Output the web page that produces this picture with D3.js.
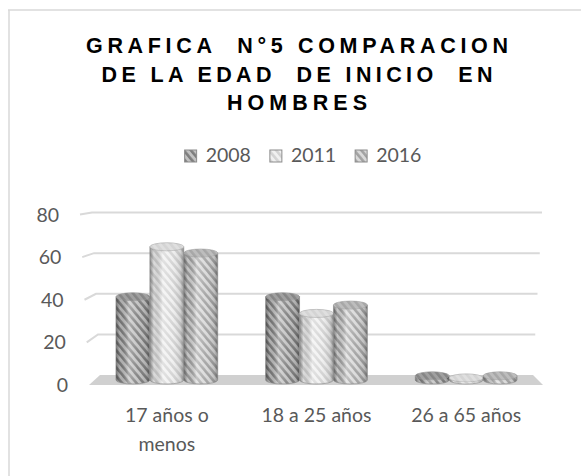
<!DOCTYPE html>
<html>
<head>
<meta charset="utf-8">
<script src="https://cdn.jsdelivr.net/npm/d3@7"></script>
<style>
  body { margin: 0; background: #fff; }
  svg { display: block; }
</style>
</head>
<body>
<div id="chart"></div>
<script>
// data
var categories = ["17 años o menos", "18 a 25 años", "26 a 65 años"];
var series = ["2008", "2011", "2016"];
var values2008 = [40, 40, 2];
var values2011 = [64, 32, 1];
var values2016 = [61, 36, 2];
var yTicks = [0, 20, 40, 60, 80];
var titleLines = ["GRAFICA  N°5 COMPARACION", "DE LA EDAD  DE INICIO  EN", "HOMBRES"];

var allValues = [values2008, values2011, values2016];

var w = 581;
var h = 476;

// base colour + stripe colour for each year
var baseColor = { "2008": "#c2c2c2", "2011": "#f0f0f0", "2016": "#d9d9d9" };
var stripeColor = { "2008": "#7e7e7e", "2011": "#d3d3d3", "2016": "#a2a2a2" };
var topColor = { "2008": "#8a8a8a", "2011": "#d4d4d4", "2016": "#ababab" };

var svg = d3.select("#chart")
    .append("svg")
    .attr("width", w)
    .attr("height", h);

var defs = svg.append("defs");

series.forEach(function (s) {
    var p = defs.append("pattern")
        .attr("id", "stripe-" + s)
        .attr("patternUnits", "userSpaceOnUse")
        .attr("width", 5.5)
        .attr("height", 5.5)
        .attr("patternTransform", "rotate(-40)");
    p.append("rect").attr("width", 5.5).attr("height", 5.5).attr("fill", baseColor[s]);
    p.append("rect").attr("width", 2.6).attr("height", 5.5).attr("fill", stripeColor[s]);
});

// cylinder shading
var shade = defs.append("linearGradient").attr("id", "shade");
shade.append("stop").attr("offset", "0%").attr("stop-color", "#000").attr("stop-opacity", 0.4);
shade.append("stop").attr("offset", "12%").attr("stop-color", "#000").attr("stop-opacity", 0.08);
shade.append("stop").attr("offset", "38%").attr("stop-color", "#fff").attr("stop-opacity", 0.35);
shade.append("stop").attr("offset", "65%").attr("stop-color", "#fff").attr("stop-opacity", 0.05);
shade.append("stop").attr("offset", "90%").attr("stop-color", "#000").attr("stop-opacity", 0.12);
shade.append("stop").attr("offset", "100%").attr("stop-color", "#000").attr("stop-opacity", 0.35);

// chart frame (only top and left edges are visible)
svg.append("line").attr("x1", 8).attr("x2", w).attr("y1", 10).attr("y2", 10)
    .style("stroke", "#d9d9d9").style("stroke-width", 1.5);
svg.append("line").attr("x1", 9).attr("x2", 9).attr("y1", 10).attr("y2", h)
    .style("stroke", "#d9d9d9").style("stroke-width", 1.5);

// title
var titleWidths = [422, 391, 140];
var titleY = [53, 82, 110];
svg.append("g").selectAll("text")
    .data(titleLines)
    .enter()
    .append("text")
    .attr("x", 297)
    .attr("y", (d, i) => titleY[i])
    .attr("text-anchor", "middle")
    .attr("textLength", (d, i) => titleWidths[i])
    .attr("lengthAdjust", "spacing")
    .style("white-space", "pre")
    .style("font-family", "'Liberation Sans', Arial, sans-serif")
    .style("font-weight", "bold")
    .style("font-size", "21.5px")
    .style("fill", "#000")
    .text(d => d);

// legend
var legend = svg.append("g");
var lx = 0;
series.forEach(function (s) {
    var item = legend.append("g").attr("transform", "translate(" + lx + ",0)");
    item.append("rect")
        .attr("x", 0).attr("y", -12)
        .attr("width", 12).attr("height", 12)
        .attr("fill", "url(#stripe-" + s + ")")
        .style("stroke", "#8c8c8c")
        .style("stroke-width", 1);
    var t = item.append("text")
        .attr("x", 21).attr("y", 0)
        .style("font-family", "Lato, 'Open Sans', sans-serif")
        .style("font-size", "19.5px")
        .style("fill", "#595959")
        .text(s);
    lx += 21 + t.node().getComputedTextLength() + 19;
});
lx -= 19;
legend.attr("transform", "translate(" + (303 - lx / 2) + ",162)");

// scales
var y = d3.scaleLinear().domain([0, 80]).range([375, 212.5]);
var x = d3.scaleBand().domain(categories).range([92, 541]).paddingInner(0.32).paddingOuter(0.16);
var xSub = d3.scaleBand().domain(series).range([0, x.bandwidth()]);

// 3d perspective helpers for the side wall
var frontX = v => 89 - v / 80 * 9;
var frontDy = v => 10 - v / 80 * 8;
var backLeftX = v => 100 - v / 80 * 8;
var backRightX = v => 533 + v / 80 * 9;

// gridlines
var grid = svg.append("g");
yTicks.filter(v => v > 0).forEach(function (v) {
    grid.append("polyline")
        .attr("points", [
            [frontX(v), y(v) + frontDy(v)],
            [backLeftX(v), y(v)],
            [backRightX(v), y(v)]
        ].map(p => p.join(",")).join(" "))
        .style("fill", "none")
        .style("stroke", "#d9d9d9")
        .style("stroke-width", 2);
});

// floor
svg.append("polygon")
    .attr("points", [
        [backLeftX(0), y(0)],
        [backRightX(0), y(0)],
        [543, y(0) + frontDy(0)],
        [frontX(0), y(0) + frontDy(0)]
    ].map(p => p.join(",")).join(" "))
    .style("fill", "#d0d0d0");

// y labels
svg.append("g").selectAll("text")
    .data(yTicks)
    .enter()
    .append("text")
    .attr("x", v => frontX(v) - 21)
    .attr("y", v => y(v) + frontDy(v) + 7)
    .attr("text-anchor", "end")
    .style("font-family", "Lato, 'Open Sans', sans-serif")
    .style("font-size", "19.5px")
    .style("fill", "#595959")
    .text(d => d);

// cylinders
var ry = 4;
var bars = svg.append("g");
categories.forEach(function (c, ci) {
    series.forEach(function (s, si) {
        var v = allValues[si][ci];
        var cx = x(c) + xSub(s) + xSub.bandwidth() / 2;
        var rx = xSub.bandwidth() / 2;
        var topY = y(v) + frontDy(v) / 2;
        var botY = y(0) + frontDy(0) / 2;
        var body = "M" + (cx - rx) + "," + topY +
            "L" + (cx - rx) + "," + botY +
            "A" + rx + "," + ry + " 0 0 0 " + (cx + rx) + "," + botY +
            "L" + (cx + rx) + "," + topY + "Z";
        var g = bars.append("g").attr("class", "bar-" + s);
        g.append("path").attr("d", body).attr("fill", "url(#stripe-" + s + ")");
        g.append("path").attr("d", body).attr("fill", "url(#shade)")
            .style("stroke", "#8a8a8a").style("stroke-width", 0.6);
        g.append("ellipse")
            .attr("cx", cx).attr("cy", topY)
            .attr("rx", rx).attr("ry", ry)
            .attr("fill", topColor[s])
            .style("stroke", "#9a9a9a").style("stroke-width", 0.6);
        g.append("ellipse")
            .attr("cx", cx).attr("cy", topY)
            .attr("rx", rx).attr("ry", ry)
            .attr("fill", "url(#stripe-" + s + ")")
            .style("opacity", 0.4);
    });
});

// category labels with wrapping
function wrap(text, width) {
    text.each(function () {
        var t = d3.select(this);
        var words = t.text().split(/\s+/);
        var line = [];
        var lineNo = 0;
        var tx = t.attr("x");
        var ty = t.attr("y");
        t.text(null);
        var tspan = t.append("tspan").attr("x", tx).attr("y", ty);
        words.forEach(function (word) {
            line.push(word);
            tspan.text(line.join(" "));
            if (tspan.node().getComputedTextLength() > width && line.length > 1) {
                line.pop();
                tspan.text(line.join(" "));
                line = [word];
                lineNo++;
                tspan = t.append("tspan").attr("x", tx).attr("y", +ty + lineNo * 29).text(word);
            }
        });
    });
}

svg.append("g").selectAll("text")
    .data(categories)
    .enter()
    .append("text")
    .attr("x", d => x(d) + x.bandwidth() / 2)
    .attr("y", 422)
    .attr("text-anchor", "middle")
    .style("font-family", "Lato, 'Open Sans', sans-serif")
    .style("font-size", "19.5px")
    .style("fill", "#595959")
    .text(d => d)
    .call(wrap, 130);
</script>
</body>
</html>
